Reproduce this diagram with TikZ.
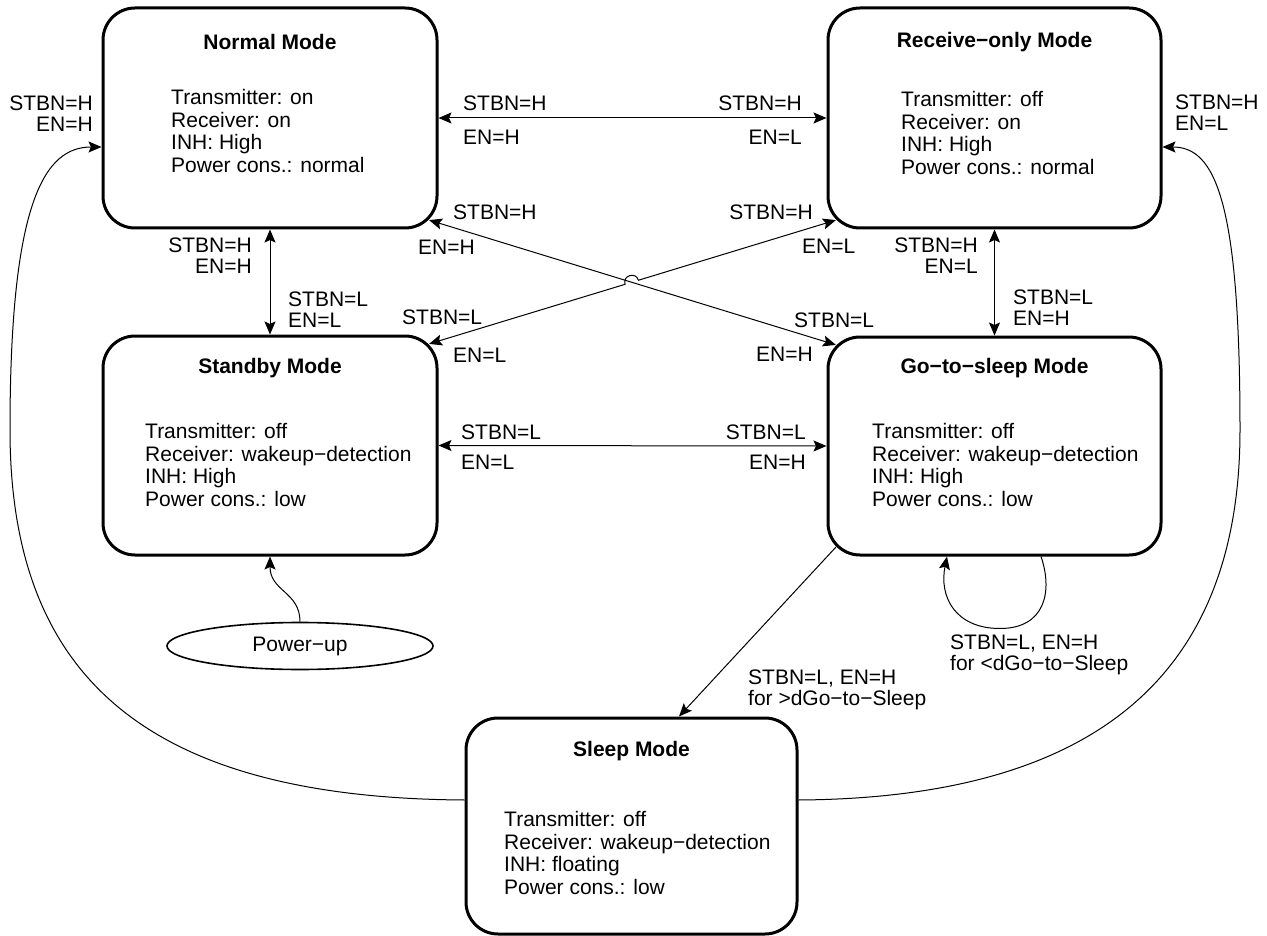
\documentclass[tikz,border=0pt]{standalone}
\usepackage{fontspec}
\setmainfont{Liberation Sans}
\usetikzlibrary{arrows.meta,calc,shapes.geometric}
\begin{document}
\begin{tikzpicture}[x=1pt,y=-1pt,
  statebox/.style={draw, line width=3pt, rounded corners=32pt, rectangle, inner sep=0pt},
  ttl/.style={font=\fontsize{21}{22}\selectfont\bfseries, inner sep=0pt},
  body/.style={font=\fontsize{21}{22.5}\selectfont, align=left, anchor=west, inner sep=0pt},
  lbl/.style={font=\fontsize{21}{21}\selectfont, inner sep=0pt},
  lblw/.style={lbl, anchor=west, align=left},
  lble/.style={lbl, anchor=east, align=right},
  tip/.tip={Stealth[length=13pt,width=11pt,inset=2.5pt]},
  conn/.style={line width=1pt, -tip},
  biconn/.style={line width=1pt, tip-tip},
]
\useasboundingbox (0,0) rectangle (1267,936);

% state boxes
\node[statebox, minimum width=334pt, minimum height=220pt] (normal)  at (270,118) {};
\node[statebox, minimum width=333pt, minimum height=220pt] (receive) at (994.5,118) {};
\node[statebox, minimum width=334pt, minimum height=219pt] (standby) at (270,445.5) {};
\node[statebox, minimum width=333pt, minimum height=218pt] (gosleep) at (994.5,446) {};
\node[statebox, minimum width=331pt, minimum height=216pt] (sleep)   at (631.5,826) {};

% titles
\node[ttl] (tn) at (270,42) {Normal Mode};
\node[ttl] (tr) at (994.5,42) {Receive−only Mode};
\node[ttl] (ts) at (270,368) {Standby Mode};
\node[ttl] (tg) at (994.5,368) {Go−to−sleep Mode};
\node[ttl] (tl) at (631.5,751) {Sleep Mode};

% bodies
\node[body] (bn) at (171,131) {Transmitter: on\\Receiver: on\\INH: High\\Power cons.: normal};
\node[body] (br) at (901,133) {Transmitter: off\\Receiver: on\\INH: High\\Power cons.: normal};
\node[body] (bs) at (145,465) {Transmitter: off\\Receiver: wakeup−detection\\INH: High\\Power cons.: low};
\node[body] (bg) at (872,465) {Transmitter: off\\Receiver: wakeup−detection\\INH: High\\Power cons.: low};
\node[body] (bl) at (504,853) {Transmitter: off\\Receiver: wakeup−detection\\INH: floating\\Power cons.: low};

% power-up
\node[ellipse, draw, line width=1.6pt, minimum width=266pt, minimum height=47pt, inner sep=0pt,
      font=\fontsize{21}{22}\selectfont] (power) at (300,646) {Power−up};

% helper coordinates
\coordinate (nSE) at ($(normal.south east)+(-9.4,-9.4)$);
\coordinate (sNE) at ($(standby.north east)+(-9.4,9.4)$);
\coordinate (rSW) at ($(receive.south west)+(9.4,-9.4)$);
\coordinate (gNW) at ($(gosleep.north west)+(9.4,9.4)$);
\coordinate (gSW) at ($(gosleep.south west)+(9.4,-9.4)$);
\coordinate (X) at (intersection of sNE--rSW and nSE--gNW);
\coordinate (j1) at ($(X)!7pt!(sNE)$);
\coordinate (j2) at ($(X)!7pt!(rSW)$);
\coordinate (lpS) at ($(gosleep.south)+(46.5,0)$);
\coordinate (lpE) at ($(gosleep.south)+(-47.5,0)$);
\coordinate (lpB) at ($(gosleep.south)+(5.5,72)$);
\coordinate (slT) at ($(sleep.north)+(47.5,0)$);
\coordinate (slW) at ($(sleep.west)+(0,-26)$);
\coordinate (slE) at ($(sleep.east)+(0,-26)$);
\coordinate (nmW) at ($(normal.west)+(0,29)$);
\coordinate (rcE) at ($(receive.east)+(0,29)$);

% connectors
\draw[biconn] (normal.east) -- (receive.west);
\draw[biconn] (standby.east) -- (gosleep.west);
\draw[biconn] (normal.south) -- (standby.north);
\draw[biconn] (receive.south) -- (gosleep.north);
\draw[biconn] (nSE) -- (gNW);
\draw[biconn] (sNE) -- (j1) .. controls ($(j1)!9.3pt!90:(X)$) and ($(j2)!9.3pt!-90:(X)$) .. (j2) -- (rSW);
\draw[conn] (gSW) -- (slT);
\draw[conn] (lpS) .. controls +(12,35) and +(45,0) .. (lpB) .. controls +(-45,0) and +(-8,40) .. (lpE);
\draw[conn] (power.north) .. controls +(0,-30) and +(0,35) .. (standby.south);
\draw[conn] (slW) .. controls (150,798) and (10,680) .. (10,430) .. controls (10,200) and (45,147) .. (nmW);
\draw[conn] (slE) .. controls (1090,798) and (1240,680) .. (1240,430) .. controls (1240,200) and (1215,147) .. (rcE);

% labels
\node[lble] (l1) at (93,114) {STBN=H\\EN=H};
\node[lblw] (l2) at (1175,113) {STBN=H\\EN=L};
\node[lblw] (l3) at (463,103) {STBN=H};
\node[lblw] (l4) at (463,137) {EN=H};
\node[lble] (l5) at (802,103) {STBN=H};
\node[lble] (l6) at (802,137) {EN=L};
\node[lble] (l7) at (252,256) {STBN=H\\EN=H};
\node[lblw] (l8) at (288,310) {STBN=L\\EN=L};
\node[lble] (l9) at (978,256) {STBN=H\\EN=L};
\node[lblw] (l10) at (1013,308) {STBN=L\\EN=H};
\node[lblw] (l11) at (453,212) {STBN=H};
\node[lblw] (l12) at (418,247) {EN=H};
\node[lble] (l13) at (813,212) {STBN=H};
\node[lblw] (l14) at (802,246) {EN=L};
\node[lblw] (l15) at (402,317) {STBN=L};
\node[lblw] (l16) at (453,355) {EN=L};
\node[lblw] (l17) at (794,320) {STBN=L};
\node[lble] (l18) at (813,354) {EN=H};
\node[lblw] (l19) at (461,432) {STBN=L};
\node[lblw] (l20) at (461,462) {EN=L};
\node[lble] (l21) at (806,432) {STBN=L};
\node[lble] (l22) at (806,462) {EN=H};
\node[lblw] (l23) at (950,655) {STBN=L, EN=H\\for <dGo−to−Sleep};
\node[lblw] (l24) at (748,690) {STBN=L, EN=H\\for >dGo−to−Sleep};
\end{tikzpicture}
\end{document}
